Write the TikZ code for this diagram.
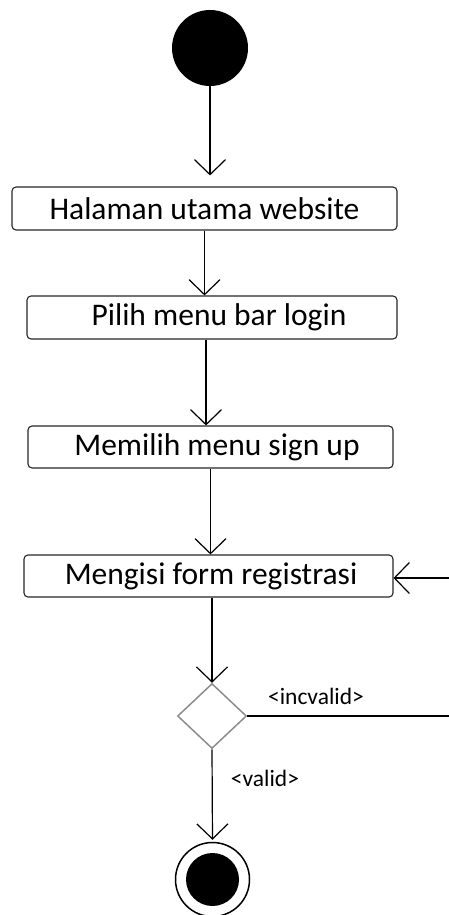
\documentclass[tikz,border=0pt]{standalone}
\usepackage{fontspec}
\setmainfont{Carlito}
\usetikzlibrary{arrows.meta,shapes.geometric,calc}
\begin{document}
\begin{tikzpicture}[x=1pt,y=-1pt,
  actbox/.style={draw=black!85,line width=1.1pt,rounded corners=4pt,inner sep=0pt,font=\fontsize{31.5}{34}\selectfont},
  arr/.style={line width=1.2pt,-{Straight Barb[length=15pt,width=31pt,line width=1.2pt]}},
  lbl/.style={font=\fontsize{23.5}{26}\selectfont,inner sep=0pt}]
\useasboundingbox (0,0) rectangle (448,915);
\node[circle,fill=black,minimum size=76pt,inner sep=0pt] (start) at (210,48) {};
\node[actbox,minimum width=385pt,minimum height=43pt] (b1) at (204.5,208.5) {Halaman utama website};
\node[actbox,minimum width=370pt,minimum height=43pt] (b2) at (212,317.5) {\hspace*{14pt}Pilih menu bar login};
\node[actbox,minimum width=365pt,minimum height=42pt] (b3) at (210.5,447) {\hspace*{13pt}Memilih menu sign up};
\node[actbox,minimum width=369pt,minimum height=42pt] (b4) at (208.5,576) {\hspace*{5pt}Mengisi form registrasi};
\node[diamond,draw=black!45,line width=1.5pt,minimum width=69pt,minimum height=65pt,inner sep=0pt] (d) at (212,716) {};
\node[circle,draw=black,line width=1.5pt,minimum size=74pt,inner sep=0pt] (end) at (212.5,879.5) {};
\node[circle,fill=black,minimum size=53pt,inner sep=0pt] (endin) at (212.5,879.5) {};
\node[lbl] (linv) at (316,696) {<incvalid>};
\node[lbl] (lval) at (265,778) {<valid>};
\draw[arr,shorten >=11pt] (start.south) -- (start.south |- b1.north);
\draw[arr] (b1.south) -- (b1.south |- b2.north);
\draw[arr] ([xshift=-6pt]b2.south) -- ([xshift=-6pt]b2.south |- b3.north);
\draw[arr] (b3.south) -- (b3.south |- b4.north);
\draw[arr] ([xshift=3.5pt]b4.south) -- (d.north);
\draw[arr,shorten >=2pt] (d.south) -- (end.north);
\draw[arr] (d.east) -- (470,716) |- ([yshift=-2pt]b4.east);
\end{tikzpicture}
\end{document}
